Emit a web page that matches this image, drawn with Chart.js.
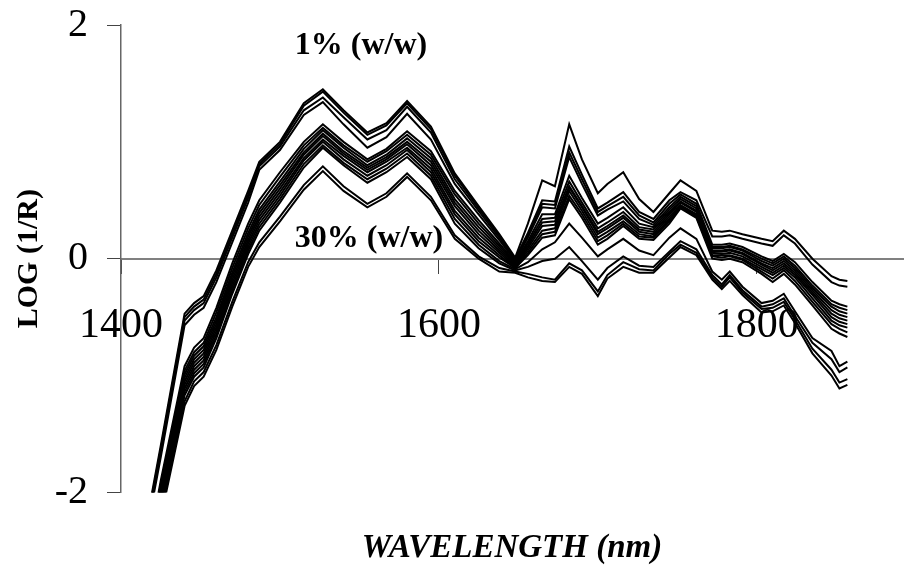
<!DOCTYPE html>
<html>
<head>
<meta charset="utf-8">
<script src="https://cdn.jsdelivr.net/npm/chart.js@4.4.1/dist/chart.umd.min.js"></script>
<style>
  body { margin: 0; background: #fff; }
</style>
</head>
<body>
<canvas id="nirChart" width="904" height="573"></canvas>
<script>
// wavelengths (nm) shared by all spectra
var wavelengths = [1410, 1425, 1440, 1446, 1452, 1460, 1470, 1480, 1487, 1500,
    1515, 1527, 1540, 1555, 1567, 1580, 1595, 1610, 1625, 1638,
    1648, 1656, 1665, 1673, 1682, 1690, 1700, 1706, 1716, 1726,
    1735, 1745, 1752, 1762, 1772, 1778, 1783, 1791, 1803, 1810,
    1817, 1824, 1835, 1847, 1852, 1857];

var xTicks = [1400, 1600, 1800];
var yTicks = [-2, 0, 2];

// log(1/R) spectra, from 1% (top) down to 30% (bottom)
var s1 = [-2.70, -1.60, -0.47, -0.38, -0.32, -0.10, 0.24, 0.58, 0.83, 1.00, 1.33, 1.45, 1.27, 1.08, 1.16, 1.35, 1.13, 0.73, 0.45, 0.21, 0.01, 0.30, 0.67, 0.62, 1.15, 0.85, 0.56, 0.64, 0.74, 0.51, 0.40, 0.56, 0.67, 0.58, 0.24, 0.23, 0.24, 0.21, 0.17, 0.15, 0.24, 0.17, 0.00, -0.15, -0.18, -0.19];
var s2 = [-2.72, -1.63, -0.50, -0.41, -0.35, -0.13, 0.21, 0.55, 0.81, 0.98, 1.31, 1.43, 1.25, 1.06, 1.14, 1.33, 1.11, 0.71, 0.43, 0.20, 0.00, 0.22, 0.50, 0.49, 0.96, 0.72, 0.43, 0.48, 0.57, 0.40, 0.34, 0.50, 0.57, 0.50, 0.19, 0.19, 0.20, 0.17, 0.13, 0.11, 0.20, 0.13, -0.05, -0.20, -0.23, -0.24];
var s3 = [-2.75, -1.66, -0.53, -0.44, -0.38, -0.16, 0.18, 0.52, 0.79, 0.96, 1.27, 1.38, 1.21, 1.02, 1.10, 1.30, 1.08, 0.68, 0.41, 0.18, -0.01, 0.20, 0.47, 0.46, 0.91, 0.68, 0.40, 0.45, 0.53, 0.37, 0.31, 0.47, 0.55, 0.47, 0.12, 0.12, 0.13, 0.10, 0.02, -0.02, 0.04, -0.03, -0.20, -0.36, -0.39, -0.41];
var s4 = [-2.78, -1.70, -0.57, -0.48, -0.42, -0.20, 0.14, 0.48, 0.76, 0.93, 1.23, 1.34, 1.15, 0.95, 1.04, 1.24, 1.02, 0.64, 0.38, 0.16, -0.02, 0.18, 0.44, 0.43, 0.87, 0.64, 0.37, 0.42, 0.49, 0.34, 0.29, 0.44, 0.53, 0.45, 0.10, 0.10, 0.11, 0.08, 0.00, -0.04, 0.02, -0.06, -0.23, -0.39, -0.42, -0.44];
var s5 = [-3.00, -1.90, -0.92, -0.76, -0.68, -0.42, -0.04, 0.30, 0.50, 0.74, 1.00, 1.15, 1.00, 0.85, 0.94, 1.09, 0.92, 0.58, 0.33, 0.13, -0.03, 0.15, 0.38, 0.38, 0.71, 0.52, 0.30, 0.35, 0.44, 0.30, 0.27, 0.42, 0.51, 0.43, 0.09, 0.09, 0.10, 0.07, -0.02, -0.06, 0.00, -0.08, -0.25, -0.41, -0.45, -0.47];
var s6 = [-3.03, -1.93, -0.96, -0.80, -0.72, -0.46, -0.08, 0.26, 0.46, 0.70, 0.97, 1.12, 0.97, 0.83, 0.92, 1.06, 0.89, 0.55, 0.30, 0.11, -0.04, 0.13, 0.34, 0.35, 0.66, 0.48, 0.26, 0.31, 0.40, 0.27, 0.25, 0.40, 0.49, 0.41, 0.07, 0.07, 0.08, 0.05, -0.04, -0.08, -0.02, -0.10, -0.27, -0.44, -0.48, -0.50];
var s7 = [-3.06, -1.96, -0.99, -0.83, -0.75, -0.50, -0.12, 0.22, 0.42, 0.66, 0.94, 1.10, 0.95, 0.80, 0.89, 1.03, 0.86, 0.51, 0.27, 0.09, -0.05, 0.11, 0.31, 0.32, 0.62, 0.45, 0.23, 0.28, 0.37, 0.25, 0.23, 0.38, 0.48, 0.40, 0.06, 0.06, 0.07, 0.04, -0.05, -0.10, -0.04, -0.12, -0.29, -0.47, -0.51, -0.53];
var s8 = [-3.09, -1.99, -1.02, -0.86, -0.78, -0.53, -0.15, 0.19, 0.39, 0.63, 0.91, 1.07, 0.92, 0.78, 0.87, 1.00, 0.83, 0.48, 0.24, 0.07, -0.06, 0.09, 0.28, 0.29, 0.61, 0.44, 0.21, 0.26, 0.35, 0.23, 0.21, 0.36, 0.46, 0.38, 0.05, 0.04, 0.05, 0.02, -0.07, -0.12, -0.06, -0.14, -0.31, -0.50, -0.54, -0.56];
var s9 = [-3.12, -2.02, -1.05, -0.89, -0.81, -0.56, -0.18, 0.16, 0.36, 0.60, 0.89, 1.05, 0.90, 0.76, 0.85, 0.98, 0.80, 0.45, 0.21, 0.05, -0.07, 0.07, 0.24, 0.26, 0.58, 0.41, 0.18, 0.23, 0.32, 0.21, 0.19, 0.34, 0.45, 0.37, 0.03, 0.03, 0.03, 0.00, -0.09, -0.14, -0.08, -0.16, -0.34, -0.53, -0.57, -0.59];
var s10 = [-3.15, -2.05, -1.08, -0.92, -0.84, -0.59, -0.21, 0.13, 0.33, 0.57, 0.86, 1.02, 0.88, 0.74, 0.83, 0.95, 0.77, 0.41, 0.18, 0.03, -0.08, 0.05, 0.21, 0.23, 0.54, 0.38, 0.15, 0.20, 0.30, 0.19, 0.18, 0.32, 0.44, 0.36, 0.02, 0.01, 0.02, -0.01, -0.11, -0.17, -0.10, -0.19, -0.37, -0.56, -0.60, -0.63];
var s11 = [-3.18, -2.08, -1.11, -0.95, -0.87, -0.62, -0.24, 0.10, 0.30, 0.54, 0.84, 1.00, 0.85, 0.71, 0.80, 0.93, 0.74, 0.38, 0.15, 0.01, -0.08, 0.03, 0.18, 0.20, 0.51, 0.35, 0.12, 0.17, 0.28, 0.17, 0.16, 0.30, 0.43, 0.35, 0.00, -0.01, 0.00, -0.03, -0.13, -0.20, -0.13, -0.22, -0.40, -0.60, -0.64, -0.67];
var s12 = [-3.21, -2.11, -1.14, -0.98, -0.90, -0.65, -0.27, 0.07, 0.27, 0.51, 0.81, 0.97, 0.82, 0.68, 0.77, 0.90, 0.71, 0.34, 0.12, -0.02, -0.09, -0.03, 0.08, 0.14, 0.30, 0.18, 0.02, 0.08, 0.17, 0.07, 0.03, 0.18, 0.26, 0.17, -0.11, -0.18, -0.11, -0.24, -0.38, -0.36, -0.30, -0.45, -0.68, -0.79, -0.92, -0.88];
var s13 = [-3.24, -2.14, -1.17, -1.01, -0.93, -0.68, -0.30, 0.04, 0.24, 0.48, 0.78, 0.95, 0.80, 0.65, 0.74, 0.87, 0.68, 0.30, 0.09, -0.04, -0.10, -0.07, -0.02, 0.00, 0.10, -0.02, -0.18, -0.08, 0.02, -0.06, -0.07, 0.06, 0.15, 0.08, -0.14, -0.22, -0.14, -0.27, -0.41, -0.39, -0.34, -0.49, -0.72, -0.86, -0.97, -0.93];
var s14 = [-3.28, -2.18, -1.22, -1.05, -0.97, -0.74, -0.37, -0.03, 0.14, 0.36, 0.63, 0.79, 0.62, 0.47, 0.56, 0.73, 0.53, 0.20, 0.02, -0.08, -0.11, -0.13, -0.16, -0.18, -0.04, -0.10, -0.28, -0.14, -0.03, -0.09, -0.10, 0.04, 0.12, 0.05, -0.16, -0.24, -0.16, -0.29, -0.43, -0.42, -0.37, -0.52, -0.77, -0.95, -1.06, -1.03];
var s15 = [-3.32, -2.22, -1.26, -1.09, -1.01, -0.78, -0.41, -0.07, 0.10, 0.32, 0.59, 0.75, 0.58, 0.44, 0.53, 0.70, 0.50, 0.17, 0.00, -0.11, -0.12, -0.16, -0.19, -0.20, -0.07, -0.13, -0.32, -0.17, -0.07, -0.12, -0.12, 0.01, 0.10, 0.03, -0.18, -0.26, -0.19, -0.31, -0.46, -0.45, -0.40, -0.55, -0.81, -1.00, -1.11, -1.08];

var spectra = [s1, s2, s3, s4, s5, s6, s7, s8, s9, s10, s11, s12, s13, s14, s15];

// text labels inside the plot, in data units
var notes = [
    { text: '1% (w/w)', x: 1551, y: 1.82 },
    { text: '30% (w/w)', x: 1556, y: 0.17 }
];

var serif = 'Liberation Serif, Times New Roman, serif';

var datasets = spectra.map(function (s, i) {
    return {
        label: 'S' + (i + 1),
        data: wavelengths.map(function (w, j) { return { x: w, y: s[j] }; }),
        borderColor: '#000',
        borderWidth: 2,
        pointRadius: 0,
        tension: 0,
        fill: false
    };
});

// draws the two concentration labels
var notesPlugin = {
    id: 'notes',
    afterDatasetsDraw: function (chart) {
        var ctx = chart.ctx;
        ctx.save();
        ctx.fillStyle = '#000';
        ctx.font = 'bold 32px ' + serif;
        ctx.textAlign = 'center';
        ctx.textBaseline = 'middle';
        notes.forEach(function (n) {
            ctx.fillText(n.text, chart.scales.x.getPixelForValue(n.x), chart.scales.y.getPixelForValue(n.y));
        });
        ctx.restore();
    }
};

var ctx = document.getElementById('nirChart').getContext('2d');
var nirChart = new Chart(ctx, {
    type: 'line',
    data: { datasets: datasets },
    plugins: [notesPlugin],
    options: {
        responsive: false,
        animation: false,
        devicePixelRatio: 1,
        layout: { padding: { left: 0, right: 1, top: 25, bottom: 0 } },
        plugins: {
            legend: { display: false },
            tooltip: { enabled: false },
            title: {
                display: true,
                text: 'WAVELENGTH (nm)',
                position: 'bottom',
                fullSize: false,
                color: '#000',
                font: { family: serif, size: 33, weight: 'bold', style: 'italic' },
                padding: { top: 36, bottom: 5 }
            }
        },
        scales: {
            x: {
                type: 'linear',
                min: 1400,
                max: 1892,
                position: { y: 0 },
                afterBuildTicks: function (scale) {
                    scale.ticks = xTicks.map(function (v) { return { value: v }; });
                },
                afterFit: function (scale) { scale.height = 0; },
                ticks: {
                    color: '#000',
                    font: { family: serif, size: 42 },
                    padding: 28,
                    maxRotation: 0,
                    autoSkip: false,
                    callback: function (v) { return String(v); }
                },
                grid: { drawOnChartArea: false, drawTicks: true, tickLength: 14, color: '#444', lineWidth: 1 },
                border: { color: '#808080', width: 2 }
            },
            y: {
                type: 'linear',
                min: -2,
                max: 2,
                afterBuildTicks: function (scale) {
                    scale.ticks = yTicks.map(function (v) { return { value: v }; });
                },
                afterFit: function (scale) {
                    scale.width = 121;
                    scale.paddingTop = 0;
                    scale.paddingBottom = 0;
                },
                ticks: {
                    color: '#000',
                    font: { family: serif, size: 40 },
                    padding: 19,
                    callback: function (v) { return String(v); }
                },
                title: {
                    display: true,
                    text: 'LOG (1/R)',
                    color: '#000',
                    font: { family: serif, size: 30, weight: 'bold' },
                    padding: { top: 11, bottom: 0 }
                },
                grid: { drawOnChartArea: false, drawTicks: true, tickLength: 14, color: '#444', lineWidth: 1 },
                border: { color: '#666', width: 1.5 }
            }
        }
    }
});
</script>
</body>
</html>
